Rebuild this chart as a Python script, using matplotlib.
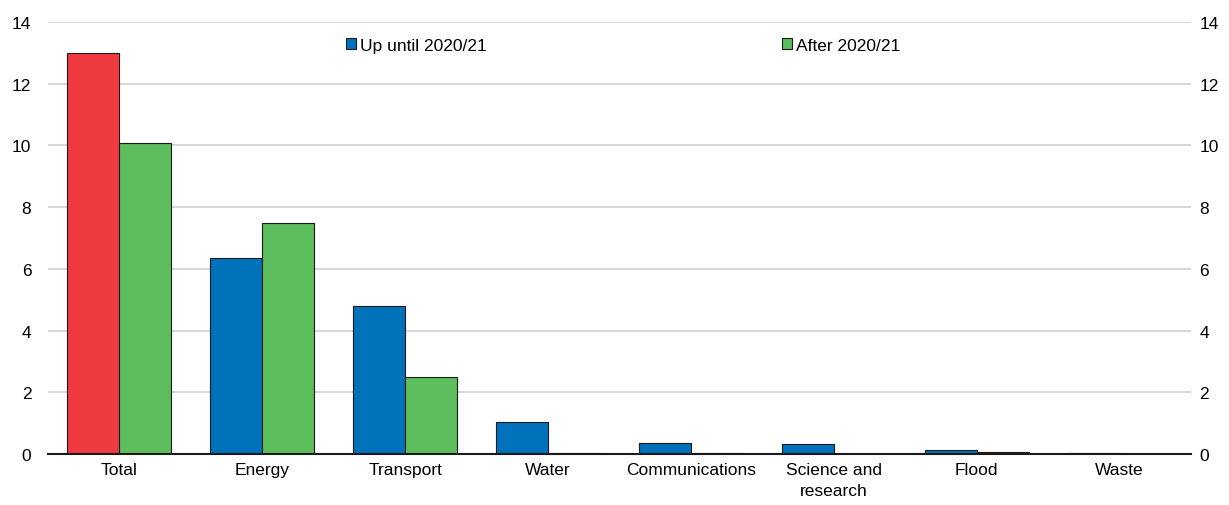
import numpy as np
import matplotlib.pyplot as plt

plt.rcParams["font.family"] = ["Liberation Sans", "DejaVu Sans"]

categories = ["Total", "Energy", "Transport", "Water", "Communications",
              "Science and\nresearch", "Flood", "Waste"]
up_until = [13.0, 6.35, 4.8, 1.05, 0.35, 0.31, 0.14, 0.04]
after = [10.08, 7.5, 2.5, 0.02, 0.02, 0.0, 0.08, 0.0]
yticks = [0, 2, 4, 6, 8, 10, 12, 14]

blue = "#0072bc"
green = "#5cbd5c"
red = "#ef3a42"

fig = plt.figure(figsize=(12.29, 5.06), dpi=100)
ax = fig.add_axes([48 / 1229, 1 - 455 / 506, (1191 - 48) / 1229, 432 / 506])

x = np.arange(len(categories))
w = 0.364
colors = [red] + [blue] * (len(categories) - 1)
ax.bar(x - w / 2, up_until, w, color=colors, edgecolor="#1a1a1a", linewidth=0.8, zorder=3)
ax.bar(x + w / 2, after, w, color=green, edgecolor="#1a1a1a", linewidth=0.8, zorder=3)

ax.set_xlim(-0.5, len(categories) - 0.5)
ax.set_ylim(0, 14)
ax.set_yticks(yticks)
ax.set_xticks(x)
ax.set_xticklabels(categories, fontsize=12.5, linespacing=1.45)
ax.grid(axis="y", color="#d0d0d0", linewidth=1.2, zorder=0)
for s in ["top", "left", "right"]:
    ax.spines[s].set_visible(False)
ax.spines["bottom"].set_color("#1a1a1a")
ax.spines["bottom"].set_linewidth(1.5)
ax.spines["bottom"].set_zorder(4)
ax.tick_params(axis="x", length=0, pad=6)
ax.tick_params(axis="y", length=0, labelsize=12.5, pad=12)

# right-hand axis with the same scale
ax2 = ax.twinx()
ax2.set_ylim(ax.get_ylim())
ax2.set_yticks(yticks)
ax2.tick_params(axis="y", length=0, labelsize=12.5, pad=6)
for s in ax2.spines.values():
    s.set_visible(False)

handles = [plt.Rectangle((0, 0), 1, 1, facecolor=blue, edgecolor="#1a1a1a", linewidth=0.8),
           plt.Rectangle((0, 0), 1, 1, facecolor=green, edgecolor="#1a1a1a", linewidth=0.8)]
ax.legend(handles, ["Up until 2020/21", "After 2020/21"], loc="upper center",
          bbox_to_anchor=(0.503, 1.0), ncol=2, frameon=False, fontsize=12.5,
          handlelength=0.6, handleheight=0.6, handletextpad=0.2, columnspacing=17.0)

fig.savefig("out.png", dpi=100)
